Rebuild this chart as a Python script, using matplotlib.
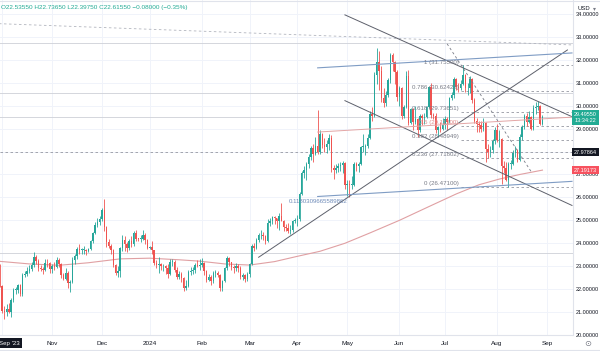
import numpy as np
import pandas as pd
import matplotlib
matplotlib.use("Agg")
import matplotlib.pyplot as plt
import matplotlib.transforms as mtransforms

plt.rcParams['font.family'] = ['Liberation Sans', 'DejaVu Sans']

# ---------------------------------------------------------------
# Daily XAG/USD candles, 28 Sep 2023 -> 29 Aug 2024 (one line per month)
# ---------------------------------------------------------------
first_bar = "2023-09-28"

opens = [
    22.5355, 22.616,
    22.13, 21.06, 21.00, 21.12, 21.02, 21.53, 21.96, 21.98, 22.18, 21.78, 22.62, 22.66, 22.80, 22.88, 23.05, 23.40, 23.22, 22.92, 22.86, 22.83, 23.15, 23.12,
    22.87, 23.00, 22.95, 23.28, 23.10, 22.60, 22.45, 22.70, 22.28, 22.30, 23.28, 23.45, 23.75, 23.70, 23.70, 23.70, 23.65, 23.75, 24.10, 24.45, 24.80, 24.93,
    25.05, 25.45, 24.70, 24.05, 23.90, 23.70, 23.05, 22.72, 22.78, 23.80, 24.15, 23.95, 23.80, 24.10, 23.95, 24.45, 24.20, 24.18, 24.20, 24.35, 24.15,
    23.80, 23.85, 23.70, 23.15, 23.05, 23.10, 23.00, 23.00, 22.90, 22.65, 23.18, 23.20, 22.85, 22.55, 22.65, 22.50, 22.05, 22.15, 22.75, 22.80, 22.85, 23.05, 23.00,
    23.05, 23.15, 22.80, 22.40, 22.55, 22.35, 22.70, 22.70, 22.60, 22.05, 22.35, 22.90, 23.35, 23.20, 22.95, 22.90, 23.00, 22.90, 22.55, 22.60, 22.45,
    22.65, 23.10, 23.90, 23.80, 24.15, 24.35, 24.35, 24.30, 24.10, 24.90, 24.95, 25.15, 25.10, 24.95, 25.20, 24.95, 24.70, 24.65, 24.55, 24.60, 24.95,
    25.00, 25.05, 26.15, 27.05, 27.20, 27.45, 27.75, 28.15, 27.90, 28.25, 28.00, 28.75, 28.30, 28.20, 28.35, 28.60, 27.30, 27.20, 27.30, 27.35, 27.40, 27.50,
    26.55, 26.60, 26.55, 26.55, 27.45, 27.35, 27.45, 28.20, 28.20, 28.25, 28.60, 29.65, 29.55, 31.35, 31.90, 31.50, 30.35, 30.10, 30.45, 31.10, 32.20, 31.90, 31.45,
    30.40, 30.75, 29.55, 29.95, 31.30, 29.25, 29.85, 29.30, 29.40, 28.95, 29.55, 29.45, 29.50, 29.95, 30.80, 29.60, 29.55, 28.95, 29.05, 29.00,
    29.15, 29.40, 29.30, 30.35, 30.45, 31.15, 30.80, 30.75, 30.95, 31.35, 30.75, 30.75, 31.15, 30.25, 29.35, 29.20, 29.15, 29.00, 29.25, 28.10, 28.00, 28.05, 28.45,
    28.95, 28.50, 28.55, 27.35, 27.30, 26.75, 27.45, 27.45, 27.95, 28.05, 27.65, 28.65, 29.05, 29.55, 29.30, 29.50, 29.00, 29.90, 29.95, 30.00, 29.20,
]
highs = [
    22.7365, 23.08,
    22.20, 21.25, 21.35, 21.40, 21.62, 22.05, 22.10, 22.22, 22.24, 22.70, 22.78, 22.98, 23.06, 23.18, 23.60, 23.50, 23.30, 23.05, 22.95, 23.30, 23.32, 23.18,
    23.10, 23.20, 23.40, 23.35, 23.12, 22.70, 22.90, 22.78, 22.40, 23.40, 23.55, 23.85, 23.95, 23.80, 23.88, 23.75, 23.80, 24.15, 24.50, 24.92, 25.10, 25.20,
    25.55, 25.92, 24.75, 24.20, 23.95, 23.75, 23.10, 23.00, 23.85, 24.35, 24.30, 24.05, 24.20, 24.30, 24.55, 24.60, 24.25, 24.35, 24.60, 24.45, 24.20,
    23.90, 24.10, 23.72, 23.25, 23.40, 23.15, 23.10, 23.05, 23.10, 23.30, 23.30, 23.25, 22.95, 22.80, 22.75, 22.55, 22.40, 22.85, 22.95, 22.95, 23.15, 23.25, 23.30,
    23.35, 23.20, 22.85, 22.65, 22.60, 22.80, 22.85, 22.80, 22.65, 22.40, 22.95, 23.45, 23.40, 23.20, 23.05, 23.15, 23.10, 23.00, 22.70, 22.65, 22.75,
    23.15, 23.95, 24.00, 24.25, 24.45, 24.60, 24.50, 24.35, 25.05, 25.10, 25.20, 25.20, 25.10, 25.30, 25.77, 25.00, 24.85, 24.90, 24.80, 25.00, 25.10,
    25.25, 26.25, 27.15, 27.35, 27.55, 27.90, 28.25, 28.35, 28.65, 29.80, 28.95, 28.80, 28.60, 28.50, 28.75, 28.70, 27.40, 27.45, 27.50, 27.55, 27.60, 27.55,
    26.75, 26.75, 26.95, 27.55, 27.55, 27.55, 28.25, 28.75, 28.35, 28.75, 29.75, 29.95, 31.45, 32.50, 32.40, 31.75, 30.75, 30.65, 31.20, 32.30, 32.30, 31.95, 31.55,
    30.85, 30.80, 30.05, 31.50, 31.55, 29.90, 29.90, 30.00, 29.45, 29.65, 29.65, 29.70, 30.00, 30.85, 31.00, 29.70, 29.70, 29.10, 29.30, 29.45,
    29.55, 29.50, 30.40, 30.60, 31.25, 31.20, 31.00, 31.10, 31.755, 31.40, 31.00, 31.30, 31.20, 30.35, 29.45, 29.35, 29.35, 29.45, 29.30, 28.35, 28.25, 28.55, 29.05,
    29.20, 28.95, 28.60, 27.60, 27.55, 27.55, 27.65, 28.05, 28.25, 28.10, 28.75, 29.15, 29.65, 29.70, 29.75, 29.55, 30.05, 30.15, 30.20, 30.05, 29.60,
]
lows = [
    22.3975, 22.10,
    20.95, 20.68, 20.85, 20.95, 20.80, 21.45, 21.80, 21.85, 21.70, 21.70, 22.52, 22.58, 22.70, 22.80, 22.95, 23.08, 22.80, 22.78, 22.67, 22.80, 22.98, 22.72,
    22.70, 22.85, 22.90, 22.95, 22.50, 22.40, 22.40, 22.05, 21.88, 22.25, 23.10, 23.30, 23.55, 23.55, 23.55, 23.48, 23.60, 23.72, 24.00, 24.40, 24.70, 24.80,
    24.95, 24.55, 23.85, 23.78, 23.55, 22.95, 22.60, 22.55, 22.52, 23.65, 23.65, 23.60, 23.70, 23.85, 23.90, 24.10, 24.12, 24.05, 24.15, 23.95, 23.75,
    23.75, 23.55, 23.05, 22.90, 22.70, 22.85, 22.80, 22.65, 22.50, 22.60, 23.00, 22.75, 22.45, 22.45, 22.30, 21.93, 21.95, 22.10, 22.60, 22.65, 22.70, 22.95, 22.85,
    22.95, 22.60, 22.30, 22.35, 22.20, 22.25, 22.55, 22.55, 21.93, 21.93, 22.30, 22.85, 23.00, 22.85, 22.70, 22.80, 22.75, 22.45, 22.40, 22.30, 22.35,
    22.55, 23.05, 23.65, 23.75, 24.05, 24.20, 24.15, 23.95, 24.05, 24.75, 24.85, 24.85, 24.65, 24.60, 24.95, 24.55, 24.55, 24.45, 24.40, 24.50, 24.90,
    24.75, 24.95, 26.10, 26.85, 26.75, 27.30, 27.65, 27.55, 27.85, 27.90, 27.90, 28.15, 28.00, 27.95, 28.05, 27.10, 26.80, 27.05, 27.10, 27.15, 27.05, 26.35,
    26.05, 26.02, 26.35, 26.50, 27.15, 27.10, 27.40, 28.00, 27.85, 28.15, 28.55, 29.35, 29.50, 30.95, 30.70, 30.15, 29.95, 30.00, 30.40, 31.00, 31.50, 30.95, 30.20,
    30.00, 29.40, 29.45, 29.90, 29.15, 29.20, 28.95, 29.20, 28.65, 28.85, 29.15, 29.20, 29.45, 29.90, 29.45, 29.40, 28.80, 28.65, 28.85, 28.95,
    29.00, 28.95, 29.25, 30.25, 30.35, 30.70, 30.60, 30.70, 30.90, 30.60, 30.45, 30.55, 30.10, 29.25, 28.85, 28.85, 28.85, 28.90, 27.55, 27.70, 27.75, 27.95, 28.35,
    28.40, 28.20, 26.60, 27.05, 26.70, 26.47, 27.25, 27.40, 27.75, 27.55, 27.60, 28.50, 29.00, 29.10, 29.25, 28.95, 28.95, 29.65, 29.80, 29.15, 29.15,
]
closes = [
    22.6155, 22.13,
    21.06, 21.00, 21.12, 21.02, 21.53, 21.96, 21.98, 22.18, 21.78, 22.62, 22.66, 22.80, 22.88, 23.05, 23.40, 23.22, 22.92, 22.86, 22.83, 23.15, 23.12, 22.87,
    23.00, 22.95, 23.28, 23.10, 22.60, 22.45, 22.70, 22.28, 22.30, 23.28, 23.45, 23.75, 23.70, 23.70, 23.70, 23.65, 23.75, 24.10, 24.45, 24.80, 24.93, 25.05,
    25.45, 24.70, 24.05, 23.90, 23.70, 23.05, 22.72, 22.78, 23.80, 24.15, 23.95, 23.80, 24.10, 23.95, 24.45, 24.20, 24.18, 24.20, 24.35, 24.15, 23.80,
    23.85, 23.70, 23.15, 23.05, 23.10, 23.00, 23.00, 22.90, 22.65, 23.18, 23.20, 22.85, 22.55, 22.65, 22.50, 22.05, 22.15, 22.75, 22.80, 22.85, 23.05, 23.00, 23.05,
    23.15, 22.80, 22.40, 22.55, 22.35, 22.70, 22.70, 22.60, 22.05, 22.35, 22.90, 23.35, 23.20, 22.95, 22.90, 23.00, 22.90, 22.55, 22.60, 22.45, 22.65,
    23.10, 23.90, 23.80, 24.15, 24.35, 24.35, 24.30, 24.10, 24.90, 24.95, 25.15, 25.10, 24.95, 25.20, 24.95, 24.70, 24.65, 24.55, 24.60, 24.95, 25.00,
    25.05, 26.15, 27.05, 27.20, 27.45, 27.75, 28.15, 27.90, 28.25, 28.00, 28.75, 28.30, 28.20, 28.35, 28.60, 27.30, 27.20, 27.30, 27.35, 27.40, 27.50, 26.55,
    26.60, 26.55, 26.55, 27.45, 27.35, 27.45, 28.20, 28.20, 28.25, 28.60, 29.65, 29.55, 31.35, 31.90, 31.50, 30.35, 30.10, 30.45, 31.10, 32.20, 31.90, 31.45, 30.40,
    30.75, 29.55, 29.95, 31.30, 29.25, 29.85, 29.30, 29.40, 28.95, 29.55, 29.45, 29.50, 29.95, 30.80, 29.60, 29.55, 28.95, 29.05, 29.00, 29.15,
    29.40, 29.30, 30.35, 30.45, 31.15, 30.80, 30.75, 30.95, 31.35, 30.75, 30.75, 31.15, 30.25, 29.35, 29.20, 29.15, 29.00, 29.25, 28.10, 28.00, 28.05, 28.45, 28.95,
    28.50, 28.55, 27.35, 27.30, 26.75, 27.45, 27.45, 27.95, 28.05, 27.65, 28.65, 29.05, 29.55, 29.30, 29.50, 29.00, 29.90, 29.95, 30.00, 29.20, 29.4955,
]
prev_close = 22.6955           # close before the bar shown in the header
countdown = "13:34:22"

# moving average (pink curve), read at a few dates
sma_dates = ["2023-09-28", "2023-10-18", "2023-11-06", "2023-11-23", "2023-12-13", "2024-01-01",
             "2024-01-18", "2024-01-31", "2024-02-15", "2024-03-01", "2024-03-18", "2024-04-01",
             "2024-04-15", "2024-04-30", "2024-05-15", "2024-06-03", "2024-06-20", "2024-07-08",
             "2024-07-22", "2024-08-02", "2024-08-15", "2024-08-29"]
sma_values = [23.22, 23.10, 23.04, 23.15, 23.32, 23.35, 23.28, 23.22, 23.10, 23.05, 23.20, 23.43,
              23.65, 24.00, 24.45, 25.00, 25.60, 26.15, 26.55, 26.80, 27.00, 27.19]

# drawn objects: (date, price) end points
channel_top = [("2024-04-30", 33.96), ("2024-09-17", 29.52)]
channel_bottom = [("2024-04-30", 30.22), ("2024-09-17", 25.65)]
rising_line = [("2024-03-07", 23.39), ("2024-09-13", 32.43)]
blue_top = [("2024-04-12", 31.65), ("2024-09-17", 32.30)]
blue_bottom = [("2024-04-12", 26.04), ("2024-09-17", 26.70)]
red_middle = [("2024-04-12", 28.85), ("2024-09-17", 29.50)]
dashed_drop = [("2024-07-02", 32.70), ("2024-08-22", 27.13)]
dashed_top = [("2023-09-25", 33.59), ("2024-09-17", 32.65)]
blue_label = "0.1180309665589862"

flat_solid = [32.72, 30.57, 29.4955, 23.57]
flat_dashed = [27.97864]
sma_last = 27.19173

fib_high, fib_low = 31.755, 26.471
fib_ratios = [1, 0.786, 0.618, 0.5, 0.382, 0.236, 0]
fib_start = "2024-07-10"

price_ticks = list(range(20, 35))
hidden_ticks = [28]            # sits under the black scale label

# ---------------------------------------------------------------
UP, DOWN = '#26a69a', '#ef5350'
GRID = '#f0f3fa'
TXT = '#131722'

W, H = 600, 351
fig = plt.figure(figsize=(W / 100, H / 100), dpi=100)
ax = fig.add_axes([0, (H - 335) / H, 573 / W, 335 / H])

dates = pd.bdate_range("2023-09-25", "2024-09-27")
pos = {d.strftime("%Y-%m-%d"): k for k, d in enumerate(dates)}

# x scale: Nov 1 bar sits at px 52, Sep 2 bar at px 547
i_nov, i_sep = pos["2023-11-01"], pos["2024-09-02"]
px_per_bar = (547 - 52) / (i_sep - i_nov)
ax.set_xlim(i_nov - 52 / px_per_bar, i_nov + (573 - 52) / px_per_bar)
# y scale: 30 at px 106, 23 px per dollar, pane is 335 px high
ax.set_ylim(30 - (335 - 106) / 23, 30 + 106 / 23)

# grid (the Oct label sits under the crosshair date box)
month_idx, month_lab = [], []
for k, d in enumerate(dates):
    if k > 0 and d.month != dates[k - 1].month:
        month_idx.append(k)
        month_lab.append('2024' if d.month == 1 else ('' if d.month == 10 else d.strftime('%b')))
for k in month_idx:
    ax.axvline(k, color=GRID, lw=0.7, zorder=0)
for p in price_ticks:
    ax.axhline(p, color=GRID, lw=0.7, zorder=0)

# horizontal drawings
for p in flat_solid:
    ax.axhline(p, color='#d4d6dc', lw=0.7, zorder=1)
for p in flat_dashed:
    ax.axhline(p, color='#9598a1', lw=0.6, ls=(0, (3, 3)), zorder=1)


def seg(pts, **kw):
    xs = [pos[d] for d, _ in pts]
    ys = [v for _, v in pts]
    ax.plot(xs, ys, **kw)


seg(dashed_top, color='#b2b5be', lw=0.6, ls=(0, (3, 3)), zorder=1)

# moving average
ax.plot([pos[d] for d in sma_dates], sma_values, color='#e0a0a3', lw=0.8, zorder=2)

# candles
o, h, l, c = map(np.array, (opens, highs, lows, closes))
idx = np.arange(pos[first_bar], pos[first_bar] + len(c))
col = np.where(c >= o, UP, DOWN)
ax.vlines(idx, l, h, colors=col, lw=0.6, zorder=3)
ax.bar(idx, np.maximum(np.abs(c - o), 0.03), bottom=np.minimum(o, c), width=0.62,
       color=col, lw=0, zorder=3)

# trend lines
seg(channel_top, color='#5d606b', lw=0.7, zorder=4)
seg(channel_bottom, color='#5d606b', lw=0.7, zorder=4)
seg(rising_line, color='#5d606b', lw=0.7, zorder=4)
seg(blue_top, color='#7f9cc4', lw=0.8, zorder=4)
seg(blue_bottom, color='#7f9cc4', lw=0.8, zorder=4)
seg(red_middle, color='#e3a6a6', lw=0.7, zorder=4)
seg(dashed_drop, color='#787b86', lw=0.6, ls=(0, (3, 3)), zorder=4)
ax.text(pos[blue_bottom[0][0]], blue_bottom[0][1] - 0.12, blue_label, color='#6d8ab8',
        fontsize=4.4, ha='center', va='top', zorder=5)

# fibonacci retracement
for r in fib_ratios:
    lvl = fib_low + r * (fib_high - fib_low)
    ax.plot([pos[fib_start], ax.get_xlim()[1]], [lvl, lvl], color='#9598a1', lw=0.6,
            ls=(0, (3, 3)), zorder=2)
    lab = f"{r:g} ({lvl:.5f})"
    ax.text(pos[fib_start] - 1, lvl + 0.04, lab, fontsize=4.4, ha='right', va='bottom',
            color='#e08a8a' if r == 0.5 else '#787b86', zorder=5)

# axes cosmetics
for s in ['top', 'left']:
    ax.spines[s].set_visible(False)
ax.spines['bottom'].set_color('#e0e3eb')
ax.spines['right'].set_color('#e0e3eb')
ax.spines['bottom'].set_linewidth(0.8)
ax.spines['right'].set_linewidth(0.8)
ax.set_xticks(month_idx, month_lab)
ax.yaxis.tick_right()
ax.set_yticks(price_ticks, ['' if p in hidden_ticks else f"{p:.5f}" for p in price_ticks])
ax.tick_params(axis='both', length=0, labelcolor=TXT)
ax.tick_params(axis='x', pad=4, labelsize=4.6)
ax.tick_params(axis='y', pad=2.2, labelsize=4.0)
ax.set_facecolor('white')

# price labels on the scale
blend = mtransforms.blended_transform_factory(ax.transAxes, ax.transData)
lab_kw = dict(transform=blend, fontsize=4.0, color='white', ha='left', va='center',
              clip_on=False, zorder=6)
ax.text(1.002, closes[-1], f"{closes[-1]:.5f}\n{countdown}", linespacing=1.3,
        bbox=dict(boxstyle='square,pad=0.35', fc='#22ab94', ec='none'), **lab_kw)
ax.text(1.002, flat_dashed[0], f"{flat_dashed[0]:.5f}",
        bbox=dict(boxstyle='square,pad=0.3', fc='#131722', ec='none'), **lab_kw)
ax.text(1.002, sma_last, f"{sma_last:.5f}",
        bbox=dict(boxstyle='square,pad=0.3', fc='#f7525f', ec='none'), **lab_kw)

# header and corner widgets
chg = prev_close - closes[0]
header = (f"O{opens[0]:.5f} H{highs[0]:.5f} L{lows[0]:.5f} C{closes[0]:.5f} "
          f"\u2212{chg:.5f} (\u2212{chg / prev_close * 100:.2f}%)")
fig.text(0.002, 1 - 7 / H, header, fontsize=4.6, color='#22ab94', ha='left', va='center')
fig.text(578 / W, 1 - 9 / H, "USD", fontsize=4.2, color=TXT, ha='left', va='center')
fig.text(593 / W, 1 - 9 / H, "\u25BE", fontsize=4.2, color='#787b86', ha='left', va='center',
         family='DejaVu Sans')
fig.text(588 / W, 1 - 343 / H, "\u2299", fontsize=6, color='#787b86', ha='center', va='center',
         family='DejaVu Sans')
fig.text(9 / W, 1 - 343 / H, "Sep '23", fontsize=4.4, color='white', ha='center', va='center',
         bbox=dict(boxstyle='square,pad=0.4', fc='#131722', ec='none'))
fig.add_artist(plt.Line2D([0, 1], [1 / H, 1 / H], color='#e0e3eb', lw=0.8))
fig.add_artist(plt.Line2D([0, 1], [1 - 0.5 / H, 1 - 0.5 / H], color='#e0e3eb', lw=0.8))

fig.savefig("out.png", dpi=100, facecolor='white')
